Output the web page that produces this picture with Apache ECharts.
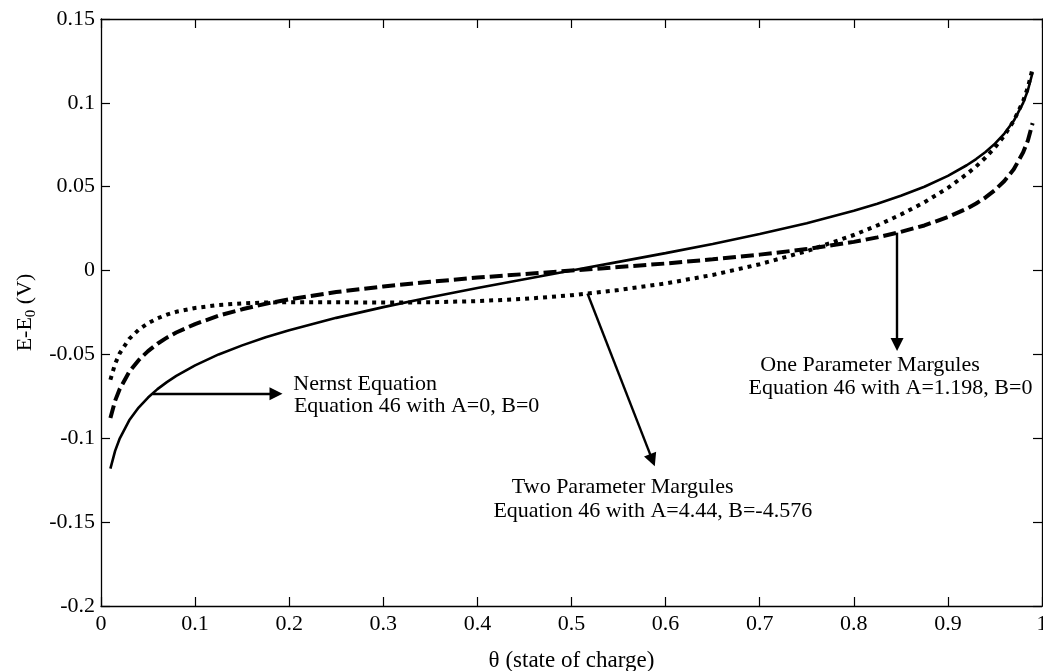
<!DOCTYPE html>
<html><head><meta charset="utf-8">
<script src="https://cdn.jsdelivr.net/npm/echarts@6/dist/echarts.min.js"></script>
<style>html,body{margin:0;padding:0;background:#fff}#c{width:1043px;height:671px}</style>
</head><body><div id="c"></div>
<script>
// state of charge values
const theta = [0.01,0.015,0.02,0.03,0.04,0.05,0.06,0.07,0.08,0.1,0.125,0.15,0.175,0.2,0.25,0.3,0.35,0.4,0.45,0.5,0.55,0.6,0.65,0.7,0.75,0.8,0.825,0.85,0.875,0.9,0.92,0.93,0.94,0.95,0.96,0.97,0.98,0.985,0.99];
// Nernst equation (A=0, B=0), solid
const nernst = [-0.1181,-0.1075,-0.1000,-0.0893,-0.0817,-0.0757,-0.0707,-0.0665,-0.0628,-0.0565,-0.0500,-0.0446,-0.0398,-0.0356,-0.0282,-0.0218,-0.0159,-0.0104,-0.0052,0,0.0052,0.0104,0.0159,0.0218,0.0282,0.0356,0.0398,0.0446,0.0500,0.0565,0.0628,0.0665,0.0707,0.0757,0.0817,0.0893,0.1000,0.1075,0.1181];
// One parameter Margules (A=1.198, B=0), dashed
const oneParamMargules = [-0.0879,-0.0776,-0.0705,-0.0604,-0.0534,-0.0480,-0.0436,-0.0400,-0.0369,-0.0319,-0.0269,-0.0231,-0.0198,-0.0171,-0.0128,-0.0095,-0.0067,-0.0042,-0.0021,0,0.0021,0.0042,0.0067,0.0095,0.0128,0.0171,0.0198,0.0231,0.0269,0.0319,0.0369,0.0400,0.0436,0.0480,0.0534,0.0604,0.0705,0.0776,0.0879];
// Two parameter Margules (A=4.44, B=-4.576), dotted
const twoParamMargules = [-0.0651,-0.0556,-0.0492,-0.0407,-0.0353,-0.0314,-0.0285,-0.0263,-0.0246,-0.0223,-0.0205,-0.0196,-0.0190,-0.0189,-0.0189,-0.0191,-0.0189,-0.0182,-0.0169,-0.0147,-0.0116,-0.0077,-0.0026,0.0038,0.0116,0.0212,0.0269,0.0334,0.0407,0.0493,0.0575,0.0621,0.0674,0.0734,0.0805,0.0893,0.1011,0.1092,0.1204];

const xAxisRange = [0, 1, 0.1];
const yAxisRange = [-0.2, 0.15, 0.05];

// annotation texts
const annNernst = ['Nernst Equation', 'Equation 46 with A=0, B=0'];
const annTwo = ['Two Parameter Margules', 'Equation 46 with A=4.44, B=-4.576'];
const annOne = ['One Parameter Margules', 'Equation 46 with A=1.198, B=0'];

const FONT = "'Liberation Serif','Times New Roman',serif";
const pts = ys => theta.map((t, i) => [t, ys[i]]);

const fmt = v => String(+v.toFixed(2));
const baseX = {type:'value', min:xAxisRange[0], max:xAxisRange[1], interval:xAxisRange[2], gridIndex:0,
  splitLine:{show:false}, axisLine:{show:true, onZero:false, lineStyle:{color:'#000', width:1.3}},
  axisTick:{show:true, inside:true, length:9, lineStyle:{color:'#000', width:1.2}}};
const baseY = {type:'value', min:yAxisRange[0], max:yAxisRange[1], interval:yAxisRange[2], gridIndex:0,
  splitLine:{show:false}, axisLine:{show:true, onZero:false, lineStyle:{color:'#000', width:1.3}},
  axisTick:{show:true, inside:true, length:9, lineStyle:{color:'#000', width:1.2}}};

const txt = (coord, s) => ({coord: coord, label:{formatter: s}});

const chart = echarts.init(document.getElementById('c'), null, {renderer:'canvas'});
chart.setOption({
  animation:false,
  backgroundColor:'#fff',
  color:['#000','#000','#000'],
  textStyle:{fontFamily:FONT},
  grid:{left:101, right:1, top:19, bottom:65, containLabel:false, outerBoundsMode:'none'},
  xAxis:[
    Object.assign({}, baseX, {position:'bottom', name:'θ (state of charge)', nameLocation:'middle', nameGap:43,
      nameTextStyle:{fontFamily:FONT, fontSize:23, color:'#000'},
      axisLabel:{show:true, margin:7, fontFamily:FONT, fontSize:22, color:'#000', formatter:fmt, showMinLabel:true, showMaxLabel:true, hideOverlap:false}}),
    Object.assign({}, baseX, {position:'top', axisLabel:{show:false}})
  ],
  yAxis:[
    Object.assign({}, baseY, {position:'left', name:'E-E{s|0} (V)', nameLocation:'middle', nameRotate:90, nameGap:62,
      nameTextStyle:{fontFamily:FONT, fontSize:22, color:'#000',
        rich:{s:{fontFamily:FONT, fontSize:15, color:'#000', padding:[12,0,0,0]}}},
      axisLabel:{show:true, margin:6, fontFamily:FONT, fontSize:22, color:'#000', formatter:fmt, showMinLabel:true, showMaxLabel:true}}),
    Object.assign({}, baseY, {position:'right', axisLabel:{show:false}})
  ],
  series:[
    {type:'line', name:'Nernst', data:pts(nernst), showSymbol:false, smooth:false, silent:true,
      itemStyle:{color:'#000'},
      lineStyle:{color:'#000', width:2.6, type:'solid'}, z:3,
      markLine:{silent:true, symbol:['none','triangle'], symbolSize:13, animation:false,
        label:{show:false}, itemStyle:{color:'#000'}, lineStyle:{color:'#000', width:2.4, type:'solid'},
        data:[
          [{coord:[0.055,-0.0735]},{coord:[0.186,-0.0735]}],
          [{coord:[0.517,-0.0137]},{coord:[0.586,-0.113]}],
          [{coord:[0.846,0.0226]},{coord:[0.846,-0.0441]}]
        ]},
      markPoint:{silent:true, symbol:'circle', symbolSize:0, animation:false,
        label:{show:true, position:'right', distance:0, align:'left', verticalAlign:'middle', fontFamily:FONT, fontSize:22, color:'#000'},
        data:[
          txt([0.2044,-0.0675], annNernst[0]),
          txt([0.2050,-0.0808], annNernst[1]),
          txt([0.4366,-0.1289], annTwo[0]),
          txt([0.4170,-0.1434], annTwo[1]),
          txt([0.7006,-0.0565], annOne[0]),
          txt([0.6881,-0.0699], annOne[1])
        ]}
    },
    {type:'line', name:'One Parameter Margules', data:pts(oneParamMargules), showSymbol:false, smooth:false, silent:true,
      itemStyle:{color:'#000'},
      lineStyle:{color:'#000', width:4, type:[13,5], cap:'butt'}, z:2},
    {type:'line', name:'Two Parameter Margules', data:pts(twoParamMargules), showSymbol:false, smooth:false, silent:true,
      itemStyle:{color:'#000'},
      lineStyle:{color:'#000', width:4, type:[4,5], cap:'butt'}, z:2}
  ]
});
</script>
</body></html>
